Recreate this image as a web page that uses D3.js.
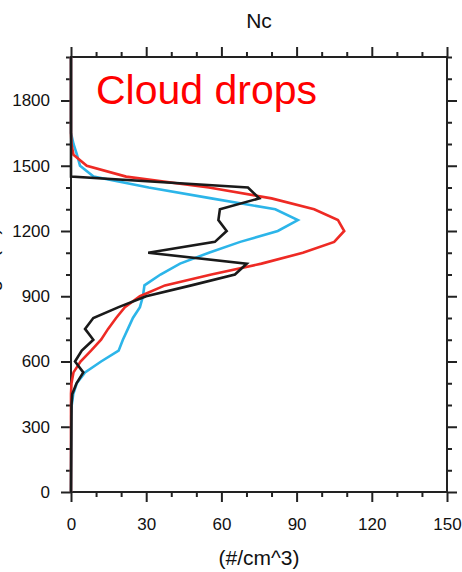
<!DOCTYPE html>
<html>
<head>
<meta charset="utf-8">
<script src="https://cdn.jsdelivr.net/npm/d3@7"></script>
<style>
  body { margin: 0; background: #fff; }
  svg { display: block; font-family: "Liberation Sans", Arial, Helvetica, sans-serif; }
  .axis text { font-size: 17px; fill: #111; }
  .axis line { stroke: #222; stroke-width: 2; }
</style>
</head>
<body>
<div id="chart"></div>
<script>
/*** DATA ***/
//heights (m) and number concentration (#/cm^3) for each profile
var blackHeights = [0, 400, 450, 500, 550, 600, 650, 700, 750, 800, 850, 900, 950, 1000, 1050, 1100, 1150, 1200, 1250, 1300, 1350, 1400, 1450, 1500, 2000];
var blackValues  = [0, 0.2, 0.5, 2.2, 4.9, 1.6, 4.3, 8.9, 5.6, 8.9, 19, 30, 48, 65.4, 70.1, 30.8, 57.4, 62.1, 58.8, 59.4, 75.1, 70.6, 0, 0, 0];

var redHeights = [0, 450, 500, 550, 600, 650, 700, 750, 800, 850, 900, 950, 1000, 1050, 1100, 1150, 1200, 1250, 1300, 1350, 1400, 1450, 1500, 1550, 1600, 1650, 2000];
var redValues  = [0, 0, 0.2, 1, 3.8, 8, 12, 14.8, 18, 21.5, 27.5, 37.5, 56, 76, 92.5, 105, 109, 106.5, 97, 80, 55, 22, 6.3, 1, 0.2, 0, 0];

var blueHeights = [0, 350, 400, 450, 500, 550, 600, 650, 700, 750, 800, 850, 900, 950, 1000, 1050, 1100, 1150, 1200, 1250, 1300, 1350, 1400, 1450, 1500, 1550, 1600, 1650, 2000];
var blueValues  = [0, 0.1, 0.3, 0.9, 2.3, 5.6, 12, 19, 20.7, 22.7, 24.7, 27.5, 28.7, 29.3, 35.7, 43.5, 55, 67.5, 82.5, 90.5, 81.5, 56, 31, 9, 3.6, 2.4, 1, 0, 0];

var xMajorTicks = [0, 30, 60, 90, 120, 150];
var yMajorTicks = [0, 300, 600, 900, 1200, 1500, 1800];

/*** LAYOUT ***/
var width = 462, height = 572;
var margin = {top: 57, right: 15, bottom: 80, left: 71};
var plotW = width - margin.left - margin.right;
var plotH = height - margin.top - margin.bottom;

var svg = d3.select('#chart').append('svg')
  .attr('width', width)
  .attr('height', height);

var g = svg.append('g')
  .attr('transform', 'translate(' + margin.left + ',' + margin.top + ')');

var x = d3.scaleLinear().domain([0, 150]).range([0, plotW]);
var y = d3.scaleLinear().domain([0, 2000]).range([plotH, 0]);

var xMinor = d3.range(0, 151, 10).filter(function(d) { return d % 30 != 0; });
var yMinor = d3.range(0, 2001, 100).filter(function(d) { return d % 300 != 0; });

//major + minor ticks on all four sides, pointing outward
function addAxis(axisFn, scale, major, minor, transform, labels, padding) {
  var major_g = g.append('g')
    .attr('class', 'axis')
    .attr('transform', transform)
    .call(axisFn(scale).tickValues(major).tickSize(10).tickSizeOuter(0)
      .tickPadding(padding || 3)
      .tickFormat(labels ? d3.format('d') : ''));
  major_g.select('.domain').remove();

  var minor_g = g.append('g')
    .attr('class', 'axis')
    .attr('transform', transform)
    .call(axisFn(scale).tickValues(minor).tickSize(5).tickSizeOuter(0).tickFormat(''));
  minor_g.select('.domain').remove();
  return major_g;
}

addAxis(d3.axisBottom, x, xMajorTicks, xMinor, 'translate(0,' + plotH + ')', true, 16);
addAxis(d3.axisTop, x, xMajorTicks, xMinor, 'translate(0,0)', false);
addAxis(d3.axisLeft, y, yMajorTicks, yMinor, 'translate(0,0)', true, 11);
addAxis(d3.axisRight, y, yMajorTicks, yMinor, 'translate(' + plotW + ',0)', false);

//frame
g.append('rect')
  .attr('width', plotW)
  .attr('height', plotH)
  .attr('fill', 'none')
  .attr('stroke', '#222')
  .attr('stroke-width', 2);

/*** LINES ***/
function drawProfile(heights, values, color) {
  var pts = heights.map(function(h, i) { return [values[i], h]; });
  var line = d3.line()
    .x(function(d) { return x(d[0]); })
    .y(function(d) { return y(d[1]); });
  g.append('path')
    .datum(pts)
    .attr('d', line)
    .attr('fill', 'none')
    .attr('stroke', color)
    .attr('stroke-width', 2.6)
    .attr('stroke-linejoin', 'miter');
}

drawProfile(blueHeights, blueValues, '#2cb5e9');
drawProfile(redHeights, redValues, '#ee2a24');
drawProfile(blackHeights, blackValues, '#1a1a1a');

/*** TEXT ***/
svg.append('text')
  .attr('x', margin.left + plotW / 2)
  .attr('y', 28)
  .attr('text-anchor', 'middle')
  .style('font-size', '21px')
  .attr('fill', '#111')
  .text('Nc');

svg.append('text')
  .attr('x', margin.left + plotW / 2)
  .attr('y', 565)
  .attr('text-anchor', 'middle')
  .style('font-size', '21px')
  .attr('fill', '#111')
  .text('(#/cm^3)');

//y label mostly outside the window
svg.append('text')
  .attr('transform', 'translate(-2,' + (margin.top + plotH / 2) + ') rotate(-90)')
  .attr('text-anchor', 'middle')
  .style('font-size', '20px')
  .attr('fill', '#111')
  .text('Height (m)');

svg.append('text')
  .attr('x', 96)
  .attr('y', 104)
  .style('font-size', '41px')
  .attr('fill', '#ff0000')
  .text('Cloud drops');
</script>
</body>
</html>
